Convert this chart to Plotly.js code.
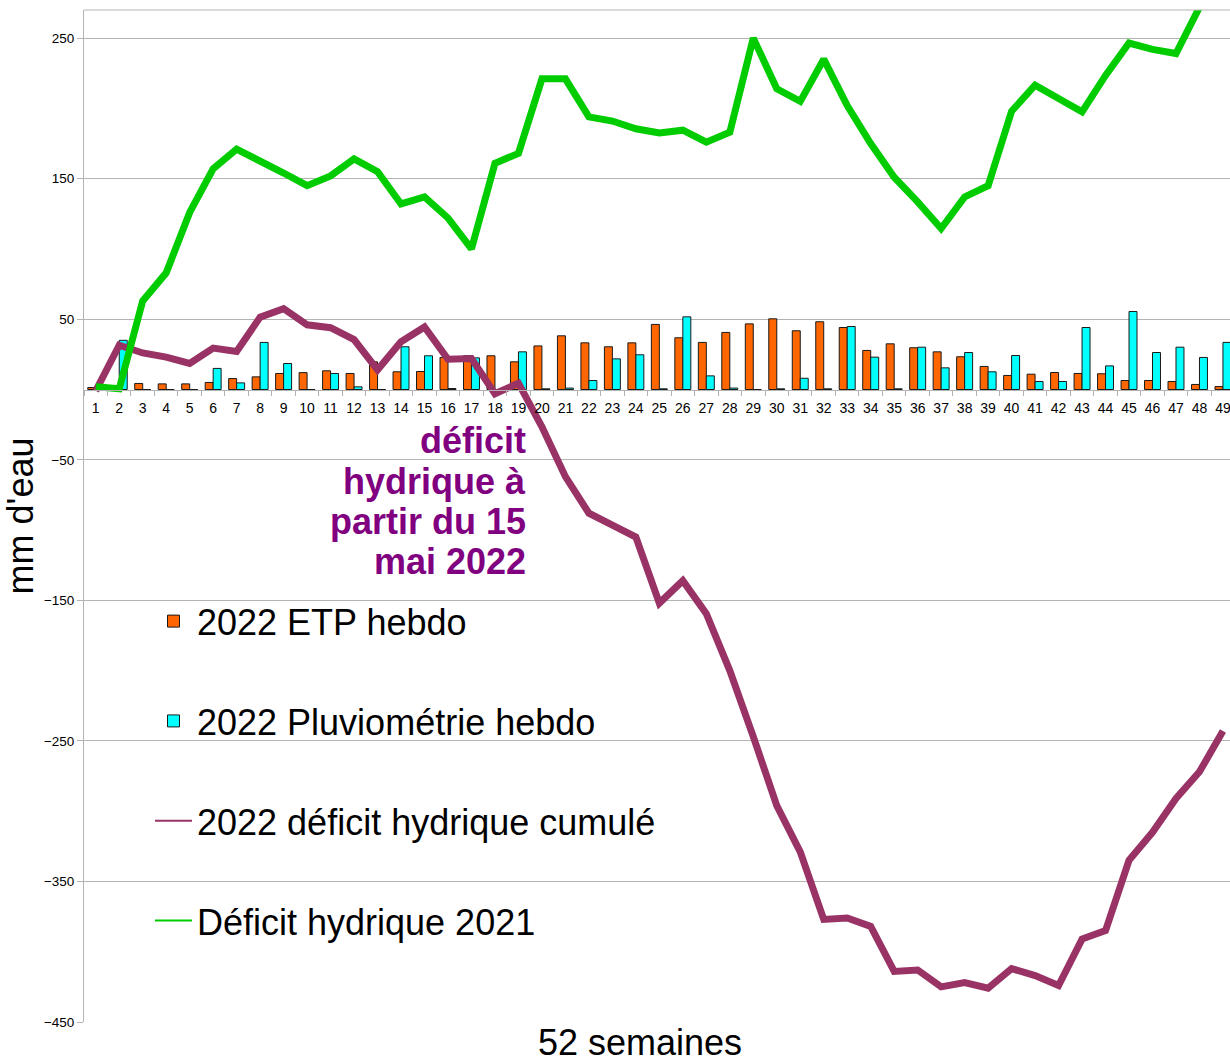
<!DOCTYPE html>
<html>
<head>
<meta charset="utf-8">
<script src="https://cdn.plot.ly/plotly-3.0.1.min.js"></script>
<style>
html,body{margin:0;padding:0;overflow:hidden;background:#fff;}
#chart{width:1230px;height:1061px;}
</style>
</head>
<body>
<div id="chart"></div>
<script>
const weeks = ["1","2","3","4","5","6","7","8","9","10","11","12","13","14","15","16","17","18","19","20","21","22","23","24","25","26","27","28","29","30","31","32","33","34","35","36","37","38","39","40","41","42","43","44","45","46","47","48","49"];

const etp2022 = [1.4,1,4.3,4,4,5,7.8,9,11.4,12,13.3,11.4,19.7,12.6,12.8,22.8,24,24,19.7,31,38.2,33.2,30.4,33.2,46.3,36.8,33.5,40.6,46.7,50.3,41.8,48.2,44.1,27.8,32.5,29.7,26.8,23.3,16.4,10,10.9,12.1,11.4,11.2,6.4,6.4,5.7,3.6,2.1];

const pluie2022 = [0,35,0,0,0,15,4.7,33.5,18.5,0,11.4,1.9,0,30.4,24,0.7,22.5,0,26.8,0.5,1,6.4,21.8,24.7,0.5,51.7,9.7,1,0,0.5,8,0.5,44.8,23,0.5,30.1,15.4,26.3,12.6,24.2,5.7,5.7,44.1,16.8,55.5,26.3,30.1,22.8,33.5];

const deficit2022 = [-1,31.5,26,23,18.5,29.5,27,51.5,57.5,46,44,35.5,14,34,44.5,21.5,22,-3,4.5,-26.5,-62,-88,-96.5,-105,-152,-136,-159.5,-200,-247,-296,-329,-377,-376,-382,-414,-413,-425,-422,-426,-412,-417,-424,-391,-385,-335,-315,-291,-272,-243];

const deficit2021 = [2,0.5,63,83,126,157,171,163,154,145,152,164,155,132,137,122,100,161,168,221,221,194,191,185.5,182.5,184.5,176,183,250,214,205,235,202,175,151,133.5,114.5,137,145,198,216.5,207,197.5,223.5,246.5,242,239,272];

const names = ["2022 ETP hebdo","2022 Pluviométrie hebdo","2022 déficit hydrique cumulé","Déficit hydrique 2021"];
const noteLines = ["déficit","hydrique à","partir du 15","mai 2022"];

const FONT = '"Liberation Sans", Arial, sans-serif';
const GRID = '#b3b3b3';

const traces = [
  {type:'bar', name:names[0], x:weeks, y:etp2022, legendgroup:'a',
   marker:{color:'#ff6600', line:{color:'#1a1a1a', width:1}}},
  {type:'bar', name:names[1], x:weeks, y:pluie2022, legendgroup:'b',
   marker:{color:'#00ffff', line:{color:'#1a1a1a', width:1}}},
  {type:'scatter', mode:'lines', name:names[2], x:weeks, y:deficit2022, showlegend:false,
   line:{color:'#993366', width:7}},
  {type:'scatter', mode:'lines', name:names[3], x:weeks.slice(0, deficit2021.length), y:deficit2021, showlegend:false,
   line:{color:'#00cc00', width:7}},
  {type:'scatter', mode:'lines', name:names[2], x:[null], y:[null], legendgroup:'c',
   line:{color:'#993366', width:2}, hoverinfo:'skip'},
  {type:'scatter', mode:'lines', name:names[3], x:[null], y:[null], legendgroup:'d',
   line:{color:'#00cc00', width:2}, hoverinfo:'skip'}
];

const plotL = 84, plotT = 9.5, plotB = 1022, plotR = 1230;
const pw = plotR - plotL, ph = plotB - plotT;
const px = v => (v - plotL) / pw;
const py = v => (plotB - v) / ph;

const noteY = [440, 481, 521, 561];
const annotations = noteLines.map((t, i) => ({
  xref:'paper', yref:'paper', x:px(528), y:py(noteY[i]), xanchor:'right', yanchor:'middle',
  showarrow:false, text:'<b>' + t + '</b>', align:'right',
  font:{family:FONT, size:36, color:'#800080'}
}));
annotations.push({
  xref:'paper', yref:'paper', x:px(640), y:py(1043), xanchor:'center', yanchor:'middle',
  showarrow:false, text:'52 semaines', font:{family:FONT, size:36, color:'#000'}
});

const layout = {
  width:1230, height:1061,
  margin:{l:plotL, r:0, t:plotT, b:1061 - plotB},
  paper_bgcolor:'#fff', plot_bgcolor:'#fff',
  font:{family:FONT, color:'#000'},
  showlegend:true,
  barmode:'group', bargap:0.32, bargroupgap:0,
  xaxis:{
    type:'category', categoryorder:'array', categoryarray:weeks,
    range:[-0.5, 48.3], anchor:'free', position:450/720,
    showline:true, linecolor:GRID, linewidth:1,
    ticks:'outside', tickson:'boundaries', ticklen:5, tickcolor:GRID,
    tickfont:{family:FONT, size:14, color:'#000'}, tickangle:0, ticklabelstandoff:6,
    showgrid:false, zeroline:false, automargin:false, fixedrange:true
  },
  yaxis:{
    range:[-450, 270], tick0:50, dtick:100,
    showgrid:true, gridcolor:GRID, gridwidth:1,
    showline:true, linecolor:GRID, linewidth:1,
    ticks:'outside', ticklen:6, tickcolor:GRID,
    tickfont:{family:FONT, size:13.5, color:'#000'},
    zeroline:false, automargin:false,
    title:{text:"mm d'eau", font:{family:FONT, size:36, color:'#000'}, standoff:0}
  },
  legend:{
    x:px(150), y:py(591), xanchor:'left', yanchor:'top',
    bgcolor:'rgba(0,0,0,0)', borderwidth:0,
    traceorder:'grouped', tracegroupgap:50,
    font:{family:FONT, size:36, color:'#000'}, itemwidth:37
  },
  shapes:[
    {type:'line', xref:'paper', yref:'paper', x0:0, x1:1, y0:1, y1:1, line:{color:GRID, width:1}}
  ],
  annotations:annotations
};

Plotly.newPlot('chart', traces, layout, {displayModeBar:false, staticPlot:true});
</script>
</body>
</html>
